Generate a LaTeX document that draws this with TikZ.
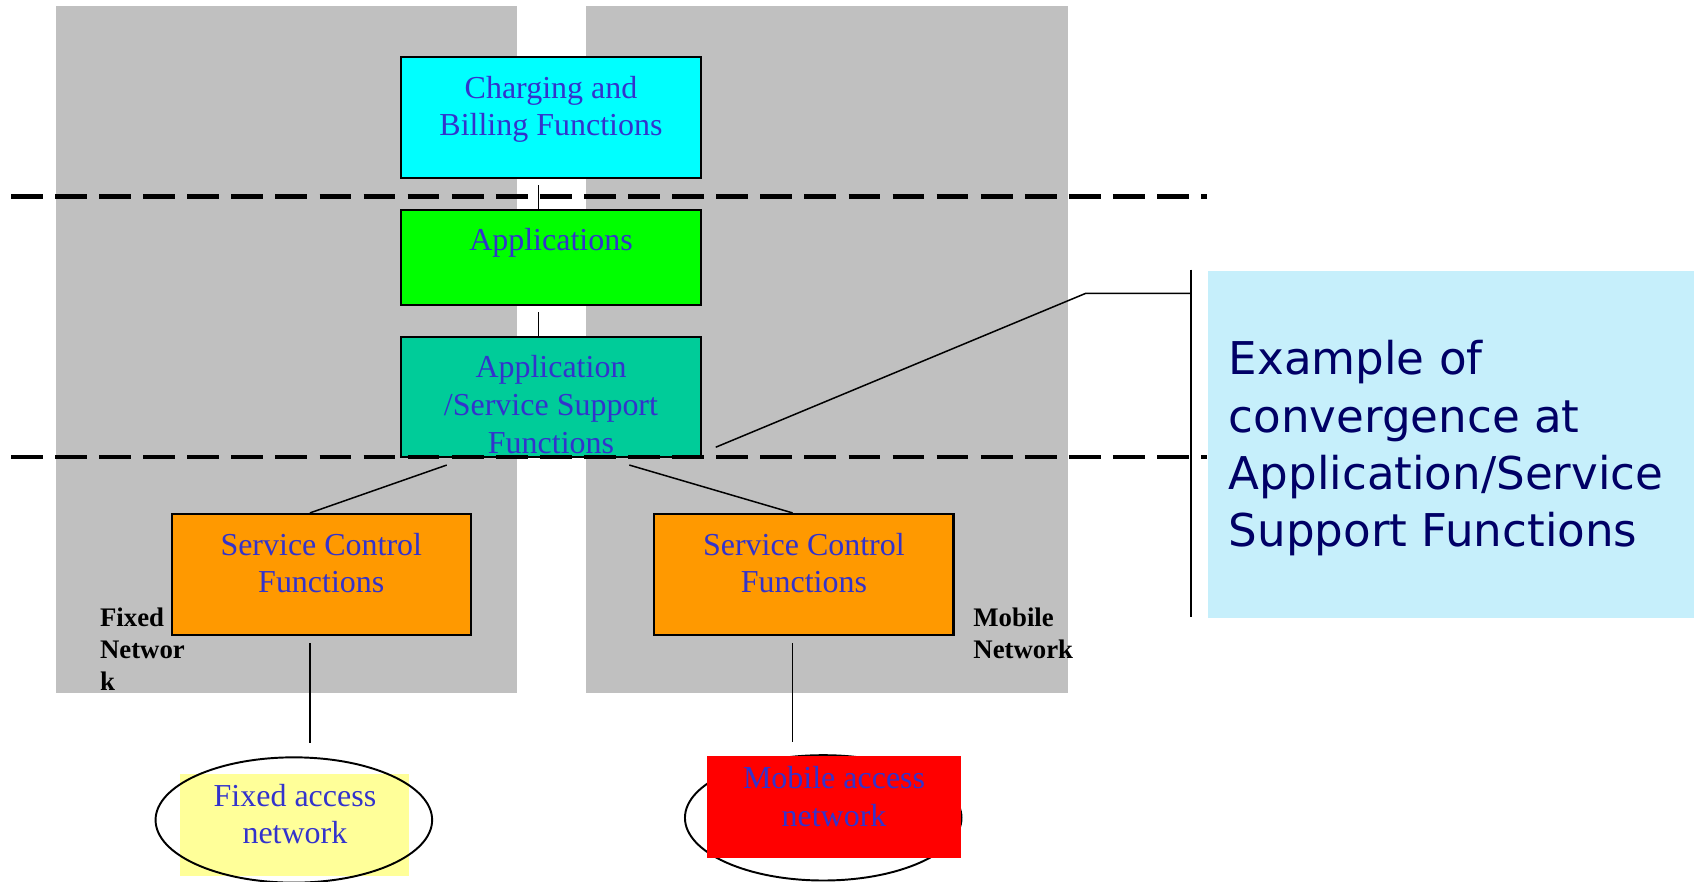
\documentclass[tikz,border=0pt]{standalone}
\usepackage{fontspec}
\setmainfont{Liberation Serif}
\newfontfamily\notefont{DejaVu Sans}
\usepackage{xcolor}
\usepackage{tikz}
\usetikzlibrary{shapes.geometric}

\definecolor{panelgray}{RGB}{192,192,192}
\definecolor{chgcyan}{RGB}{0,255,255}
\definecolor{appgreen}{RGB}{0,255,0}
\definecolor{assfgreen}{RGB}{0,204,153}
\definecolor{scforange}{RGB}{255,153,0}
\definecolor{fixyellow}{RGB}{255,255,153}
\definecolor{fnblue}{RGB}{51,51,204}
\definecolor{noteblue}{RGB}{198,239,251}
\definecolor{notenavy}{RGB}{0,0,102}

\begin{document}
\begin{tikzpicture}[x=0.5pt,y=-0.5pt,
  fnbox/.style={draw=black, line width=1pt, minimum width=138.5pt, minimum height=56pt, inner sep=0pt},
  fntext/.style={text=fnblue, align=center, inner sep=0pt, anchor=base, font=\fontsize{14.8}{17.5}\selectfont},
  link/.style={line width=0.7pt},
  layer/.style={line width=2pt, dash pattern=on 14.7pt off 5.7pt},
  netlabel/.style={align=left, inner sep=0pt, anchor=base west, font=\fontsize{12.4}{14.65}\selectfont\bfseries},
  accnet/.style={ellipse, draw=black, line width=0.9pt, minimum width=128pt, minimum height=58pt, inner sep=0pt}]

\useasboundingbox (0,0) rectangle (1568,816);
\clip (0,0) rectangle (1568,816);

% fixed and mobile network areas
\fill[panelgray] (52,6) rectangle (478.5,641);
\fill[panelgray] (542,6) rectangle (989,641);

% layers
\node[fnbox, fill=chgcyan] (chg) at (510,108.75) {};
\node[fnbox, fill=appgreen, minimum height=44pt] (app) at (510,238.4) {};
\node[fnbox, fill=assfgreen, minimum height=55.75pt] (assf) at (510,367.5) {};
\node[fnbox, fill=scforange] (scfL) at (297.4,531.75) {};
\node[fnbox, fill=scforange] (scfR) at (744.1,531.75) {};

\draw[link, shorten <=2.8pt] ([xshift=-5.75pt]chg.south) -- ([xshift=-5.75pt]app.north);
\draw[link, shorten <=2.8pt] ([xshift=-5.75pt]app.south) -- ([xshift=-5.75pt]assf.north);
\draw[link] ([xshift=-48.25pt,yshift=-3.1pt]assf.south) -- ([xshift=-5.25pt]scfL.north);
\draw[link] ([xshift=36.25pt,yshift=-3.1pt]assf.south) -- ([xshift=-5.25pt]scfR.north);

\draw[layer] (10.2,182) -- (1117,182);
\draw[layer] (10.2,423.3) -- (1117,423.3);

% base = last line, so shift by the lines above it
\node[fntext] at ([yshift=-37pt]chg.north) {Charging and\\Billing Functions};
\node[fntext] at ([yshift=-19pt]app.north) {Applications};
\node[fntext] at ([yshift=-54.5pt]assf.north) {Application\\/Service Support\\Functions};
\node[fntext] at ([yshift=-37pt]scfL.north) {Service Control\\Functions};
\node[fntext] at ([yshift=-37pt]scfR.north) {Service Control\\Functions};

\node[netlabel] at (92.2,638.7) {Fixed\\Networ\\k};
\node[netlabel] at (900.6,609.3) {Mobile\\Network};

% access networks
\node[fill=fixyellow, minimum width=106pt, minimum height=47.5pt, inner sep=0pt] (fixbg) at (273,763.5) {};
\node[accnet] (fixan) at (272,759) {};
\node[accnet] (moban) at (762,757) {};
\node[fill=red, minimum width=117.25pt, minimum height=47pt, inner sep=0pt] (mobbg) at (772,747) {};
\node[fntext] at ([yshift=-32.8pt]fixbg.north) {Fixed access\\network};
\node[fntext] at ([yshift=-32.5pt]mobbg.north) {Mobile access\\network};

\coordinate (fixup) at ([xshift=-5.25pt]scfL.south);
\coordinate (mobup) at ([xshift=-5.25pt]scfR.south);
\draw[link, shorten <=3.4pt, shorten >=6pt] (fixup) -- (fixup |- fixan.north);
\draw[link, shorten <=3.4pt, shorten >=5.5pt] (mobup) -- (mobup |- moban.north);

% callout
\node[fill=noteblue, minimum width=225pt, minimum height=160.75pt, inner sep=0pt, anchor=north west] (note) at (1118,250) {};
\node[anchor=base west, inner sep=0pt, align=left, text=notenavy, font=\notefont\fontsize{20.9}{26.5}\selectfont] (notetxt) at (1137,506)
  {Example of\\convergence at\\Application/Service\\Support Functions};
\coordinate (brtop) at (1102.5,249.5);
\coordinate (brbot) at (1102.5,571.5);
\coordinate (bend) at (1005,271.5);
\draw[link] (brtop) -- (brbot);
\draw[link] ([xshift=6.5pt,yshift=5.15pt]assf.south east) -- (bend) -- (bend -| brtop);

\end{tikzpicture}
\end{document}
